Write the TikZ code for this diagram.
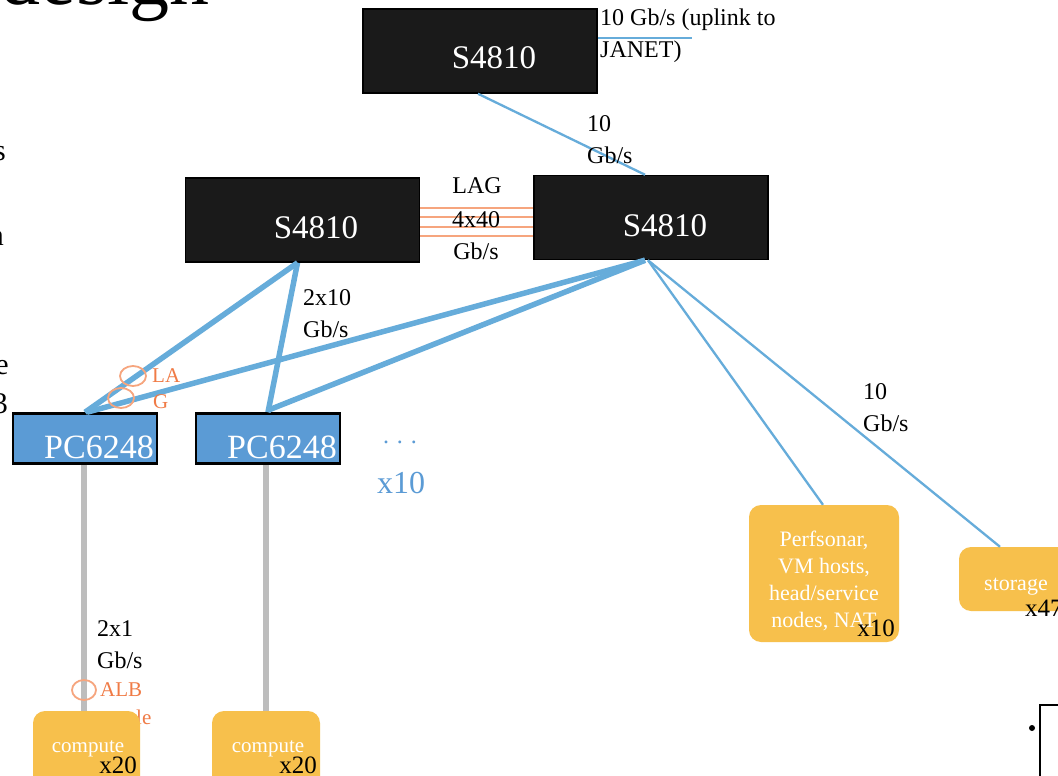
\documentclass[tikz,border=0pt]{standalone}
\usepackage{fontspec}
\setmainfont{Liberation Serif}
\usetikzlibrary{calc,shapes.geometric}
\definecolor{boxblack}{HTML}{1A1A1A}
\definecolor{linkblue}{HTML}{66ACDA}
\definecolor{pcblue}{HTML}{5B9BD5}
\definecolor{nodeyellow}{HTML}{F7C04C}
\definecolor{lagorange}{HTML}{F6A57E}
\definecolor{txtorange}{HTML}{F07B46}
\definecolor{cablegray}{HTML}{BDBDBD}
\newcommand{\fs}[1]{\fontsize{#1}{#1}\selectfont}
\tikzset{
  switchbox/.style={draw=black, line width=1.5pt, fill=boxblack, minimum width=234pt, minimum height=84pt, inner sep=0pt},
  switchtxt/.style={text=white, font=\fs{33}, inner sep=0pt},
  pcbox/.style={draw=black, line width=2.5pt, fill=pcblue, minimum width=144pt, minimum height=50pt, inner sep=0pt},
  pctxt/.style={text=white, font=\fs{34}, inner sep=0pt},
  hostbox/.style={fill=nodeyellow, rounded corners=12pt, inner sep=0pt},
  hosttxt/.style={text=white, font=\fs{22}, inner sep=0pt, align=center},
  cnttxt/.style={text=black, font=\fs{25}, inner sep=0pt},
  lbl/.style={text=black, font=\fs{24}, inner sep=0pt, align=left},
  thick link/.style={draw=linkblue, line width=5.5pt},
  thin link/.style={draw=linkblue, line width=2.3pt},
  lag/.style={draw=lagorange, line width=2.6pt},
  cable/.style={draw=cablegray, line width=5.5pt},
  lagring/.style={draw=lagorange, line width=1.8pt, ellipse, minimum width=26pt, minimum height=20pt, inner sep=0pt},
  orangetxt/.style={text=txtorange, font=\fs{21}, inner sep=0pt},
}
\begin{document}
\begin{tikzpicture}[x=1pt,y=-1pt]
\useasboundingbox (0,0) rectangle (1058,776);
\clip (0,0) rectangle (1058,776);
\fill[white] (0,0) rectangle (1058,776);

% clipped slide text on the left edge
\node[anchor=base east, font=\fs{80}, inner sep=0pt] (title) at (210,5) {design};
\node[anchor=base east, font=\fs{30}, inner sep=0pt] (l1) at (6,160) {s};
\node[anchor=base east, font=\fs{30}, inner sep=0pt] (l2) at (4,245) {n};
\node[anchor=base east, font=\fs{30}, inner sep=0pt] (l3) at (9,374) {e};
\node[anchor=base east, font=\fs{30}, inner sep=0pt] (l4) at (8,413) {3};

% switches
\node[switchbox] (top) at (480,51) {};
\node[switchtxt] (toptxt) at (494,58) {S4810};
\node[switchbox] (ls) at (302.5,220) {};
\node[switchtxt] (lstxt) at (316,228) {S4810};
\node[switchbox] (rs) at (651,217.5) {};
\node[switchtxt] (rstxt) at (665,226) {S4810};

% uplink
\coordinate (janet) at (692,38);
\draw[thin link] ($(top.east)+(0,-13)$) -- (janet);
\node[lbl, anchor=north west] (uplink) at (600,9) {10 Gb/s (uplink to\\[8pt]JANET)};

% top to right core
\draw[thin link] ($(top.south)+(-2,0)$) -- ($(rs.north)+(-6,0)$);
\node[lbl, anchor=north west] (l10a) at (587,115) {10\\[8pt]Gb/s};

% LAG between cores
\foreach \yy in {208,217,227,236}
  \draw[lag] (ls.east |- 0,\yy) -- (rs.west |- 0,\yy);
\node[lbl, anchor=north] (laglbl) at (477,177) {LAG};
\node[lbl, anchor=north] (lagspd) at (476,211) {4x40};
\node[lbl, anchor=north] (laggb) at (476,243) {Gb/s};

% access switches
\node[pcbox] (pc1) at (85,438.5) {};
\node[pctxt] (pc1txt) at (99,447) {PC6248};
\node[pcbox] (pc2) at (268,438.5) {};
\node[pctxt] (pc2txt) at (282,447) {PC6248};
\node[text=pcblue, font=\fs{24}, inner sep=0pt] (dots) at (400,442) {.\,\,.\,\,.};
\node[text=pcblue, font=\fs{32}, inner sep=0pt] (x10b) at (401,483) {x10};

% uplinks from access switches
\draw[thick link] ($(ls.south)+(-5,0)$) -- ($(pc1.north)+(0,0)$);
\draw[thick link] ($(ls.south)+(-5,0)$) -- ($(pc2.north)+(0,0)$);
\draw[thick link] ($(rs.south)+(-6,0)$) -- ($(pc1.north)+(2,0)$);
\draw[thick link] ($(rs.south)+(-6,0)$) -- ($(pc2.north)+(0,-2)$);
\node[lbl, anchor=north west] (l2x10) at (303,289) {2x10\\[8pt]Gb/s};

% LAG rings
\node[lagring] (ring1) at (133,376) {};
\node[lagring] (ring2) at (121,398) {};
\node[orangetxt, anchor=west] (la) at (152,376) {LA};
\node[orangetxt, anchor=west] (g) at (153,402) {G};

% hosts
\node[hostbox, minimum width=150pt, minimum height=137pt] (perf) at (824,573.5) {};
\node[hosttxt] (perftxt) at (824,581) {Perfsonar,\\[5pt]VM hosts,\\[5pt]head/service\\[5pt]nodes, NAT};
\node[cnttxt] (perfx) at (876,628) {x10};
\node[hostbox, minimum width=130pt, minimum height=64pt] (stor) at (1024,579) {};
\node[hosttxt] (stortxt) at (1016,587) {storage};
\node[cnttxt, anchor=west] (storx) at (1025,608) {x47};

\draw[thin link] ($(rs.south)+(-3,0)$) -- ($(perf.north)+(-1,0)$);
\draw[thin link] ($(rs.south)+(-3,0)$) -- ($(stor.north)+(-24,0)$);
\node[lbl, anchor=north west] (l10b) at (863,383) {10\\[8pt]Gb/s};

% ALB text (partly hidden behind compute box)
\node[orangetxt, anchor=west] (alb) at (100,690) {ALB};
\node[orangetxt, anchor=west] (albmode) at (136,717) {le};

% compute boxes
\node[hostbox, minimum width=107pt, minimum height=90pt] (c1) at (86.5,756) {};
\node[hostbox, minimum width=108pt, minimum height=90pt] (c2) at (266,756) {};
\node[hosttxt, font=\fs{21}] (c1txt) at (88,749) {compute};
\node[cnttxt] (c1x) at (118,765) {x20};
\node[hosttxt, font=\fs{21}] (c2txt) at (268,749) {compute};
\node[cnttxt] (c2x) at (298,765) {x20};

% gray cables
\draw[cable] ($(pc1.south)+(-1,0)$) -- ($(c1.north)+(-2.5,0)$);
\draw[cable] ($(pc2.south)+(-2,0)$) -- ($(c2.north)+(0,0)$);
\node[lbl, anchor=north west] (l2x1) at (97,620) {2x1\\[8pt]Gb/s};
\node[lagring, minimum width=24pt, minimum height=20pt] (ring3) at (84,690) {};

% bottom-right fragment
\node[circle, fill=black, minimum size=6pt, inner sep=0pt] (dot) at (1032,728) {};
\coordinate (brk) at (1040,705);
\draw[line width=2.5pt] (1040,776) -- (brk) -- (1058,705);
\end{tikzpicture}
\end{document}
